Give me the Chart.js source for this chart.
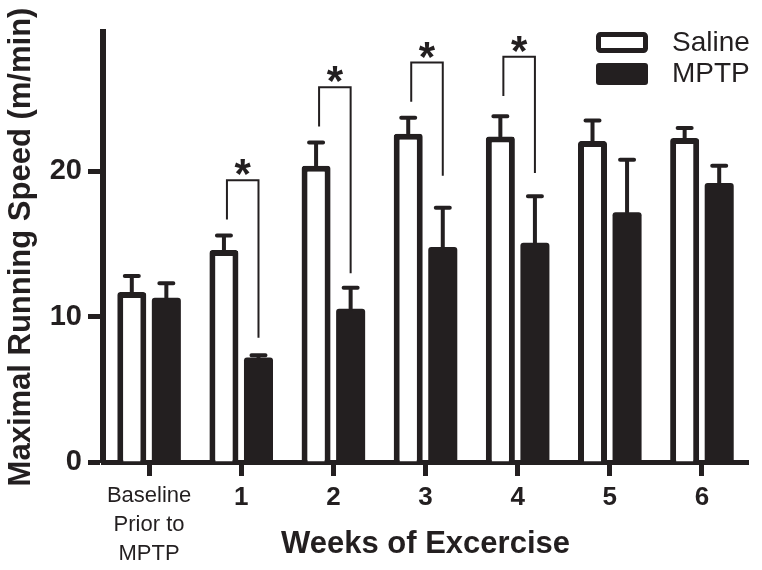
<!DOCTYPE html>
<html>
<head>
<meta charset="utf-8">
<script src="https://cdn.jsdelivr.net/npm/chart.js@4"></script>
<style>
html,body{margin:0;padding:0;background:#fff;}
#wrap{width:762px;height:570px;position:relative;}
</style>
</head>
<body>
<div id="wrap"><canvas id="c" width="762" height="570"></canvas></div>
<script>
const categories = [['Baseline','Prior to','MPTP'], '1', '2', '3', '4', '5', '6'];
const salineValues = [11.7, 14.6, 20.4, 22.6, 22.4, 22.1, 22.3];
const salineErrors = [1.1, 1.0, 1.6, 1.1, 1.4, 1.4, 0.7];
const mptpValues = [11.3, 7.2, 10.55, 14.8, 15.1, 17.2, 19.2];
const mptpErrors = [1.0, 0.15, 1.45, 2.7, 3.2, 3.6, 1.2];
const yTickValues = [0, 10, 20];
// significance brackets
const sigIndex = [1, 2, 3, 4];
const sigTop = [19.4, 25.8, 27.5, 27.9];
const sigLeftEnd = [16.7, 23.1, 24.8, 25.2];
const sigRightEnd = [8.55, 13.0, 19.7, 19.9];
const seriesNames = ['Saline', 'MPTP'];

const INK = '#231f20';
const FAM = '"Liberation Sans", Arial, Helvetica, sans-serif';

const errorBarPlugin = {
  id: 'errorBars',
  afterDatasetsDraw(chart) {
    const ctx = chart.ctx;
    const y = chart.scales.y;
    const errs = [salineErrors, mptpErrors];
    ctx.save();
    ctx.strokeStyle = INK;
    ctx.lineWidth = 4;
    ctx.lineCap = 'round';
    chart.data.datasets.forEach((ds, di) => {
      const meta = chart.getDatasetMeta(di);
      meta.data.forEach((bar, i) => {
        const v = ds.data[i];
        const top = y.getPixelForValue(v + errs[di][i]);
        const base = y.getPixelForValue(v);
        ctx.beginPath();
        ctx.moveTo(bar.x, base);
        ctx.lineTo(bar.x, top);
        ctx.moveTo(bar.x - 7, top);
        ctx.lineTo(bar.x + 7, top);
        ctx.stroke();
      });
    });
    // significance brackets
    const m0 = chart.getDatasetMeta(0), m1 = chart.getDatasetMeta(1);
    ctx.lineWidth = 2;
    ctx.lineCap = 'butt';
    sigIndex.forEach((idx, k) => {
      const xl = m0.data[idx].x + 3;
      const xr = m1.data[idx].x;
      const yt = y.getPixelForValue(sigTop[k]);
      ctx.beginPath();
      ctx.moveTo(xl, y.getPixelForValue(sigLeftEnd[k]));
      ctx.lineTo(xl, yt);
      ctx.lineTo(xr, yt);
      ctx.lineTo(xr, y.getPixelForValue(sigRightEnd[k]));
      ctx.stroke();
      ctx.fillStyle = INK;
      ctx.font = 'bold 42px ' + FAM;
      ctx.textAlign = 'center';
      ctx.textBaseline = 'alphabetic';
      ctx.fillText('*', (xl + xr) / 2, yt + 8);
    });
    ctx.restore();
  }
};

const legendPlugin = {
  id: 'customLegend',
  afterDraw(chart) {
    const ctx = chart.ctx;
    ctx.save();
    const bx = 596, bw = 52, bh = 21;
    const rows = [32, 63];
    ctx.lineWidth = 5;
    ctx.strokeStyle = INK;
    ctx.fillStyle = '#fff';
    ctx.beginPath();
    ctx.roundRect(bx + 2.5, rows[0] + 2.5, bw - 5, bh - 5, 2);
    ctx.fill();
    ctx.stroke();
    ctx.fillStyle = INK;
    ctx.beginPath();
    ctx.roundRect(bx, rows[1], bw, bh + 1, 3);
    ctx.fill();
    ctx.font = '28px ' + FAM;
    ctx.textAlign = 'left';
    ctx.textBaseline = 'middle';
    ctx.fillText(seriesNames[0], 672, rows[0] + bh / 2 + 1);
    ctx.fillText(seriesNames[1], 672, rows[1] + bh / 2 + 1);
    ctx.restore();
  }
};

new Chart(document.getElementById('c'), {
  type: 'bar',
  data: {
    labels: categories,
    datasets: [
      {
        label: seriesNames[0],
        data: salineValues,
        backgroundColor: '#ffffff',
        borderColor: INK,
        borderWidth: 6,
        borderRadius: 3,
        borderSkipped: 'start'
      },
      {
        label: seriesNames[1],
        data: mptpValues,
        backgroundColor: INK,
        borderColor: INK,
        borderWidth: 0,
        borderRadius: 3,
        borderSkipped: 'start'
      }
    ]
  },
  options: {
    responsive: false,
    animation: false,
    devicePixelRatio: 1,
    layout: { padding: { top: 32, right: 14, left: 0, bottom: 0 } },
    categoryPercentage: 0.75,
    barPercentage: 0.84,
    plugins: {
      legend: { display: false },
      tooltip: { enabled: false }
    },
    scales: {
      x: {
        offset: true,
        grid: {
          offset: false,
          drawOnChartArea: false,
          drawTicks: true,
          tickLength: 14,
          tickWidth: 5,
          tickColor: INK
        },
        border: { display: true, color: INK, width: 5 },
        ticks: {
          color: INK,
          padding: 6,
          maxRotation: 0,
          autoSkip: false,
          font: (c) => c.index === 0
            ? { family: FAM, size: 22, weight: 'normal', lineHeight: 1.3 }
            : { family: FAM, size: 26, weight: 'bold', lineHeight: 1.2 }
        },
        title: {
          display: true,
          text: 'Weeks of Excercise',
          color: INK,
          font: { family: FAM, size: 31, weight: 'bold', lineHeight: 1.2 },
          padding: { top: 0, bottom: 7 }
        },
        afterFit(scale) { scale.height = 108; }
      },
      y: {
        min: 0,
        max: 29.6,
        grid: {
          drawOnChartArea: false,
          drawTicks: true,
          tickLength: 15,
          tickWidth: 5,
          tickColor: INK
        },
        border: { display: true, color: INK, width: 6 },
        afterBuildTicks(scale) {
          scale.ticks = yTickValues.map(v => ({ value: v }));
        },
        ticks: {
          color: INK,
          padding: 6,
          font: { family: FAM, size: 29, weight: 'bold' }
        },
        title: {
          display: true,
          text: 'Maximal Running Speed (m/min)',
          color: INK,
          font: { family: FAM, size: 31, weight: 'bold', lineHeight: 1.2 },
          padding: { top: 3, bottom: 0 }
        },
        afterFit(scale) { scale.width = 103; }
      }
    }
  },
  plugins: [errorBarPlugin, legendPlugin]
});
</script>
</body>
</html>
